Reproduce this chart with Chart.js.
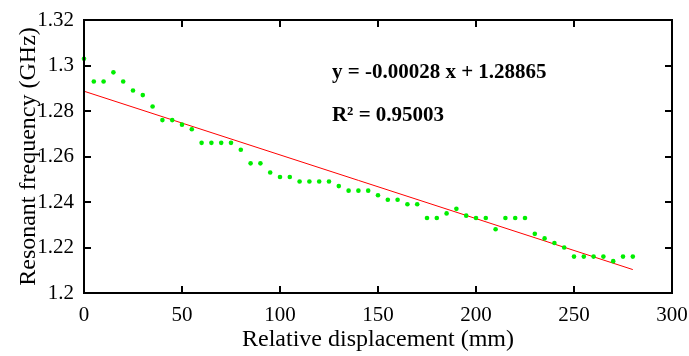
<!DOCTYPE html>
<html>
<head>
<meta charset="utf-8">
<script src="https://cdn.jsdelivr.net/npm/chart.js@4.4.1/dist/chart.umd.min.js"></script>
<style>
  html, body { margin: 0; padding: 0; background: #fff; }
  #wrap { width: 689px; height: 356px; }
</style>
</head>
<body>
<div id="wrap"><canvas id="chart"></canvas></div>
<script>
// Measured points (x every 5 mm)
const displacement = [0, 5, 10, 15, 20, 25, 30, 35, 40, 45, 50, 55, 60, 65, 70, 75, 80, 85, 90, 95,
  100, 105, 110, 115, 120, 125, 130, 135, 140, 145, 150, 155, 160, 165, 170, 175, 180, 185, 190, 195,
  200, 205, 210, 215, 220, 225, 230, 235, 240, 245, 250, 255, 260, 265, 270, 275, 280];
const frequency = [1.303, 1.293, 1.293, 1.297, 1.293, 1.289, 1.287, 1.282, 1.276, 1.276,
  1.274, 1.272, 1.266, 1.266, 1.266, 1.266, 1.263, 1.257, 1.257, 1.253,
  1.251, 1.251, 1.249, 1.249, 1.249, 1.249, 1.247, 1.245, 1.245, 1.245,
  1.243, 1.241, 1.241, 1.239, 1.239, 1.233, 1.233, 1.235, 1.237, 1.234,
  1.233, 1.233, 1.228, 1.233, 1.233, 1.233, 1.226, 1.224, 1.222, 1.220,
  1.216, 1.216, 1.216, 1.216, 1.214, 1.216, 1.216];

// Linear fit end points
const fitX = [0, 280];
const fitY = [1.2887, 1.2103];

// Axis ticks
const xTicks = [0, 50, 100, 150, 200, 250, 300];
const yTicks = [1.2, 1.22, 1.24, 1.26, 1.28, 1.3, 1.32];

// Fit annotation (baseline position in data units)
const fitLabels = ['y = -0.00028 x + 1.28865', 'R\u00b2 = 0.95003'];
const fitLabelX = [126.5, 126.5];
const fitLabelY = [1.2944, 1.2756];

const serif = '"Liberation Serif", "Times New Roman", serif';

// frame, inward ticks and fit text
const framePlugin = {
  id: 'frame',
  afterDraw(chart) {
    const { ctx, chartArea: a, scales } = chart;
    ctx.save();
    ctx.strokeStyle = '#000';
    ctx.lineWidth = 2;
    ctx.strokeRect(a.left, a.top, a.right - a.left, a.bottom - a.top);
    const len = 7;
    ctx.beginPath();
    xTicks.forEach(v => {
      const px = Math.round(scales.x.getPixelForValue(v));
      ctx.moveTo(px, a.bottom); ctx.lineTo(px, a.bottom - len);
      ctx.moveTo(px, a.top); ctx.lineTo(px, a.top + len);
    });
    yTicks.forEach(v => {
      const py = Math.round(scales.y.getPixelForValue(v));
      ctx.moveTo(a.left, py); ctx.lineTo(a.left + len, py);
      ctx.moveTo(a.right, py); ctx.lineTo(a.right - len, py);
    });
    ctx.stroke();

    ctx.fillStyle = '#000';
    ctx.font = 'bold 21px ' + serif;
    ctx.textBaseline = 'alphabetic';
    ctx.textAlign = 'left';
    fitLabels.forEach((t, i) => {
      ctx.fillText(t, scales.x.getPixelForValue(fitLabelX[i]), scales.y.getPixelForValue(fitLabelY[i]));
    });
    ctx.restore();
  }
};

new Chart(document.getElementById('chart'), {
  type: 'scatter',
  data: {
    datasets: [
      {
        label: 'Measured',
        data: displacement.map((x, i) => ({ x: x, y: frequency[i] })),
        pointRadius: 2.3,
        pointBackgroundColor: '#00ee00',
        pointBorderWidth: 0,
        showLine: false,
        clip: false
      },
      {
        label: 'Fit',
        data: fitX.map((x, i) => ({ x: x, y: fitY[i] })),
        showLine: true,
        borderColor: '#ff0000',
        borderWidth: 1,
        pointRadius: 0
      }
    ]
  },
  options: {
    responsive: true,
    maintainAspectRatio: false,
    animation: false,
    layout: { padding: { top: 20, right: 17, left: 0, bottom: 0 } },
    plugins: {
      legend: { display: false },
      tooltip: { enabled: false }
    },
    scales: {
      x: {
        type: 'linear',
        min: 0,
        max: 300,
        afterBuildTicks: s => { s.ticks = xTicks.map(v => ({ value: v })); },
        afterFit: s => { s.height = 63; s.paddingLeft = 0; s.paddingRight = 0; },
        grid: { display: false, drawTicks: false },
        border: { display: false },
        ticks: {
          color: '#000',
          padding: 10,
          font: { family: serif, size: 21 },
          maxRotation: 0
        },
        title: {
          display: true,
          text: 'Relative displacement (mm)',
          color: '#000',
          font: { family: serif, size: 24 },
          padding: { top: 0, bottom: 2 }
        }
      },
      y: {
        type: 'linear',
        min: 1.2,
        max: 1.32,
        afterBuildTicks: s => { s.ticks = yTicks.map(v => ({ value: v })); },
        afterFit: s => { s.width = 84; s.paddingTop = 0; s.paddingBottom = 0; },
        grid: { display: false, drawTicks: false },
        border: { display: false },
        ticks: {
          color: '#000',
          padding: 10,
          font: { family: serif, size: 21 },
          callback: v => String(+v.toFixed(2))
        },
        title: {
          display: true,
          text: 'Resonant frequency (GHz)',
          color: '#000',
          font: { family: serif, size: 24 },
          padding: { top: 14, bottom: 0 }
        }
      }
    }
  },
  plugins: [framePlugin]
});
</script>
</body>
</html>
